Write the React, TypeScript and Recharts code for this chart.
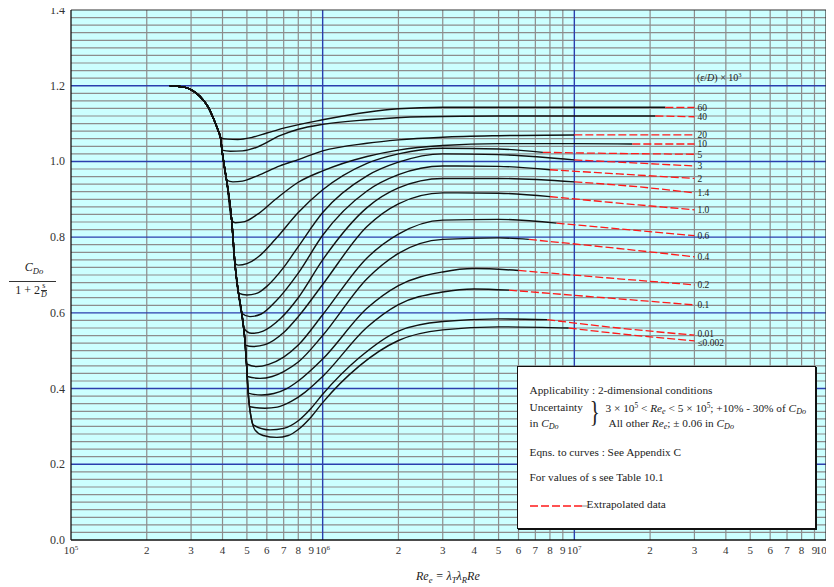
import React from 'react';
import { LineChart, Line, XAxis, YAxis, CartesianGrid } from 'recharts';

type Pt = [number, number];

const SERIF = '"Liberation Serif", "Times New Roman", "DejaVu Serif", serif';

// common descending branch (shared by every curve until it branches off)
const ENVELOPE: Pt[] = [
  [2.47e5, 1.2], [2.7e5, 1.198], [2.97e5, 1.191], [3.25e5, 1.172], [3.5e5, 1.145],
  [3.7e5, 1.11], [3.85e5, 1.08], [3.93e5, 1.062], [3.98e5, 1.03], [4.06e5, 0.99],
  [4.15e5, 0.951], [4.35e5, 0.845], [4.48e5, 0.731], [4.63e5, 0.652], [4.77e5, 0.599],
  [4.91e5, 0.528], [4.99e5, 0.458], [5.06e5, 0.388], [5.22e5, 0.317], [5.38e5, 0.291],
];

const SOLID_60: Pt[] = [[3.93e5, 1.062], [4.2e5, 1.059], [4.6e5, 1.058], [5.2e5, 1.063], [6e5, 1.075], [7e5, 1.088], [1e6, 1.11], [1.5e6, 1.13], [2e6, 1.139], [3e6, 1.143], [1e7, 1.143], [2.3e7, 1.143]];
const DASH_60: Pt[] = [[2.3e7, 1.143], [3e7, 1.143]];

const SOLID_40: Pt[] = [[3.98e5, 1.03], [4.3e5, 1.027], [4.8e5, 1.028], [5.5e5, 1.038], [6.76e5, 1.068], [8e5, 1.085], [1e6, 1.098], [1.5e6, 1.11], [2.5e6, 1.118], [5e6, 1.12], [2.1e7, 1.12]];
const DASH_40: Pt[] = [[2.1e7, 1.12], [3e7, 1.118]];

const SOLID_20: Pt[] = [[4.15e5, 0.951], [4.4e5, 0.946], [4.8e5, 0.948], [5.5e5, 0.962], [6.76e5, 0.988], [8e5, 1.005], [1e6, 1.028], [1.5e6, 1.048], [2e6, 1.057], [3e6, 1.064], [5e6, 1.068], [1e7, 1.07]];
const DASH_20: Pt[] = [[1e7, 1.07], [3e7, 1.07]];

const SOLID_10: Pt[] = [[4.35e5, 0.845], [4.5e5, 0.838], [4.9e5, 0.841], [5.5e5, 0.86], [6.5e5, 0.9], [8e5, 0.945], [1e6, 0.975], [1.5e6, 1.013], [2e6, 1.03], [3e6, 1.042], [5e6, 1.047], [1e7, 1.047], [1.7e7, 1.046]];
const DASH_10: Pt[] = [[1.7e7, 1.046], [3e7, 1.046]];

const SOLID_5: Pt[] = [[4.48e5, 0.731], [4.62e5, 0.726], [5e5, 0.73], [5.6e5, 0.75], [6.5e5, 0.795], [8e5, 0.865], [1e6, 0.925], [1.5e6, 0.995], [2e6, 1.02], [3e6, 1.035], [5e6, 1.033], [7.5e6, 1.024]];
const DASH_5: Pt[] = [[7.5e6, 1.024], [1.5e7, 1.021], [3e7, 1.019]];

const SOLID_3: Pt[] = [[4.63e5, 0.652], [5e5, 0.647], [5.5e5, 0.652], [6e5, 0.67], [7e5, 0.72], [8e5, 0.775], [1e6, 0.865], [1.5e6, 0.962], [2e6, 0.998], [3e6, 1.02], [5e6, 1.018], [1e7, 1.004]];
const DASH_3: Pt[] = [[1e7, 1.004], [2e7, 0.994], [3e7, 0.988]];

const SOLID_2: Pt[] = [[4.77e5, 0.599], [5.14e5, 0.59], [5.7e5, 0.597], [6.5e5, 0.63], [8e5, 0.705], [1e6, 0.805], [1.5e6, 0.922], [2e6, 0.965], [3e6, 0.988], [5e6, 0.987], [8e6, 0.978]];
const DASH_2: Pt[] = [[8e6, 0.978], [1.5e7, 0.967], [3e7, 0.955]];

const SOLID_1_4: Pt[] = [[4.85e5, 0.56], [5.22e5, 0.546], [5.8e5, 0.552], [6.8e5, 0.585], [8e5, 0.64], [1e6, 0.74], [1.5e6, 0.878], [2e6, 0.93], [3e6, 0.955], [5e6, 0.955], [1e7, 0.946]];
const DASH_1_4: Pt[] = [[1e7, 0.946], [2e7, 0.93], [3e7, 0.917]];

const SOLID_1_0: Pt[] = [[4.93e5, 0.515], [5.29e5, 0.511], [5.9e5, 0.516], [7e5, 0.548], [8e5, 0.59], [1e6, 0.675], [1.5e6, 0.828], [2e6, 0.888], [3e6, 0.917], [5e6, 0.916], [8e6, 0.907]];
const DASH_1_0: Pt[] = [[8e6, 0.907], [1.5e7, 0.89], [3e7, 0.872]];

const SOLID_0_6: Pt[] = [[4.985e5, 0.465], [5.47e5, 0.458], [6.1e5, 0.464], [7e5, 0.483], [8e5, 0.515], [1e6, 0.595], [1.5e6, 0.745], [2e6, 0.808], [3e6, 0.845], [5e6, 0.847], [8.5e6, 0.837]];
const DASH_0_6: Pt[] = [[8.5e6, 0.837], [1.5e7, 0.822], [3e7, 0.804]];

const SOLID_0_4: Pt[] = [[5.02e5, 0.432], [5.64e5, 0.427], [6.3e5, 0.432], [7e5, 0.445], [8e5, 0.47], [1e6, 0.54], [1.5e6, 0.69], [2e6, 0.757], [3e6, 0.794], [5e6, 0.798], [6.6e6, 0.794]];
const DASH_0_4: Pt[] = [[6.6e6, 0.794], [1.5e7, 0.77], [3e7, 0.748]];

const SOLID_0_2: Pt[] = [[5.06e5, 0.388], [5.72e5, 0.383], [6.4e5, 0.387], [7.2e5, 0.4], [8e5, 0.42], [1e6, 0.478], [1.5e6, 0.612], [2e6, 0.672], [3e6, 0.708], [4e6, 0.717], [6e6, 0.712]];
const DASH_0_2: Pt[] = [[6e6, 0.712], [1.5e7, 0.69], [3e7, 0.674]];

const SOLID_0_1: Pt[] = [[5.14e5, 0.352], [5.9e5, 0.348], [6.6e5, 0.351], [7.5e5, 0.366], [8.5e5, 0.39], [1e6, 0.432], [1.5e6, 0.562], [2e6, 0.622], [3e6, 0.655], [4e6, 0.663], [5.5e6, 0.66]];
const DASH_0_1: Pt[] = [[5.5e6, 0.66], [1.5e7, 0.637], [3e7, 0.621]];

const SOLID_0_01: Pt[] = [[5.3e5, 0.304], [6.18e5, 0.291], [7e5, 0.295], [8e5, 0.315], [9e5, 0.348], [1e6, 0.385], [1.4e6, 0.482], [2e6, 0.552], [3e6, 0.577], [5e6, 0.584], [7.8e6, 0.582]];
const DASH_0_01: Pt[] = [[7.8e6, 0.582], [1.5e7, 0.56], [3e7, 0.541]];

const SOLID_0_002: Pt[] = [[5.38e5, 0.291], [5.8e5, 0.276], [6.57e5, 0.271], [7.3e5, 0.276], [8e5, 0.292], [9e5, 0.325], [1e6, 0.363], [1.4e6, 0.46], [2e6, 0.527], [3e6, 0.555], [5e6, 0.563], [9.5e6, 0.56]];
const DASH_0_002: Pt[] = [[9.5e6, 0.56], [1.5e7, 0.545], [3e7, 0.526]];

const CURVE_LABELS = ['60', '40', '20', '10', '5', '3', '2', '1.4', '1.0', '0.6', '0.4', '0.2', '0.1', '0.01', '≤0.002'];
const SOLIDS = [SOLID_60, SOLID_40, SOLID_20, SOLID_10, SOLID_5, SOLID_3, SOLID_2, SOLID_1_4, SOLID_1_0, SOLID_0_6, SOLID_0_4, SOLID_0_2, SOLID_0_1, SOLID_0_01, SOLID_0_002];
const DASHES = [DASH_60, DASH_40, DASH_20, DASH_10, DASH_5, DASH_3, DASH_2, DASH_1_4, DASH_1_0, DASH_0_6, DASH_0_4, DASH_0_2, DASH_0_1, DASH_0_01, DASH_0_002];

const Y_TICKS = [0, 0.2, 0.4, 0.6, 0.8, 1.0, 1.2, 1.4];
const X_DECADES = [1e5, 1e6, 1e7];
const X_MULTIPLES = [1, 2, 3, 4, 5, 6, 7, 8, 9];
const X_MAX = 1e8;
const Y_MINOR_STEP = 0.02;

const xTicks: number[] = [];
X_DECADES.forEach((d) => X_MULTIPLES.forEach((m) => xTicks.push(m * d)));
xTicks.push(X_MAX);
const minorX = xTicks.filter((v) => !X_DECADES.includes(v) && v !== X_MAX);
const majorX = X_DECADES.slice(1);
const minorY: number[] = [];
for (let k = 1; k < 70; k++) if (k % 10 !== 0) minorY.push(+(k * Y_MINOR_STEP).toFixed(2));
const majorY = Y_TICKS.slice(1, -1);

const toRows = (pts: Pt[]) => pts.map(([x, y]) => ({ x, y }));

const curves = CURVE_LABELS.map((label, i) => {
  const own = SOLIDS[i];
  const head = ENVELOPE.filter((p) => p[0] < own[0][0]);
  return { label, solid: toRows([...head, ...own]), dash: toRows(DASHES[i]) };
});

const XTick = (props: any) => {
  const { x, y, payload } = props;
  const v = payload.value as number;
  const exp = Math.floor(Math.log10(v) + 1e-9);
  const mant = Math.round(v / Math.pow(10, exp));
  if (mant === 1) {
    const shift = v === X_MAX ? -3 : 0;
    return (
      <text x={x + shift} y={y} dy={10} textAnchor="middle" fontSize={11} fontFamily={SERIF} fill="#333">
        10<tspan fontSize={7} dy={-4}>{exp}</tspan>
      </text>
    );
  }
  return (
    <text x={x} y={y} dy={10} textAnchor="middle" fontSize={11} fontFamily={SERIF} fill="#333">
      {mant}
    </text>
  );
};

const YTick = (props: any) => {
  const { x, y, payload } = props;
  return (
    <text x={x} y={y} dy={4} textAnchor="end" fontSize={12} fontFamily={SERIF} fill="#333">
      {(payload.value as number).toFixed(1)}
    </text>
  );
};

const endLabel = (text: string, last: number, nudge: number) => (p: any) => {
  const x = p.x ?? p.viewBox?.x;
  const y = p.y ?? p.viewBox?.y;
  if (p.index !== last || x == null) return <g />;
  return (
    <text x={x + 3} y={y + nudge} dy={3.3} fontSize={9.5} fontFamily={SERIF} fill="#222">
      {text}
    </text>
  );
};

const sub = (t: string) => (
  <span style={{ fontSize: '0.72em', verticalAlign: '-0.3em', fontStyle: 'italic' }}>{t}</span>
);
const sup = (t: string) => (
  <span style={{ fontSize: '0.65em', verticalAlign: '0.55em' }}>{t}</span>
);

export default function App() {
  return (
    <div style={{ position: 'relative', marginTop: -8, width: 826, height: 587, fontFamily: SERIF, color: '#222' }}>
      <LineChart width={826} height={587} margin={{ top: 10, right: 8, bottom: 17, left: 0 }}>
        <CartesianGrid fill="#ccffff" fillOpacity={1} stroke="#8d8d8d" strokeWidth={1.2}
          horizontalValues={minorY} verticalValues={minorX} />
        <CartesianGrid stroke="#2b3fae" strokeWidth={1.4} horizontalValues={majorY} verticalValues={majorX} />
        <CartesianGrid stroke="#333" strokeWidth={1.2} horizontalValues={[1.4]} verticalValues={[X_MAX]} />
        <XAxis dataKey="x" type="number" scale="log" domain={[1e5, X_MAX]} allowDataOverflow
          ticks={xTicks} interval={0} tick={<XTick />} tickLine={false} tickSize={0} tickMargin={4}
          height={30} axisLine={{ stroke: '#111', strokeWidth: 1.3 }} />
        <YAxis type="number" domain={[0, 1.4]} ticks={Y_TICKS} interval={0} tick={<YTick />}
          tickLine={false} tickSize={0} tickMargin={6} width={63}
          axisLine={{ stroke: '#111', strokeWidth: 1.3 }} />
        {curves.map((c) => (
          <Line key={'s' + c.label} data={c.solid} dataKey="y" type="monotone" stroke="#111"
            strokeWidth={1.4} dot={false} activeDot={false} isAnimationActive={false} />
        ))}
        {curves.map((c, i) => (
          <Line key={'d' + c.label} data={c.dash} dataKey="y" type="monotone" stroke="#ff1a1a"
            strokeWidth={1.3} strokeDasharray="8 3" dot={false} activeDot={false}
            isAnimationActive={false}
            label={endLabel(c.label, c.dash.length - 1, i === 13 ? -1.5 : i === 14 ? 1.5 : 0)} />
        ))}
      </LineChart>

      {/* series header */}
      <div style={{ position: 'absolute', left: 689, top: 71, fontSize: 10, whiteSpace: 'nowrap' }}>
        (<i>ε</i>/<i>D</i>) × 10{sup('3')}
      </div>

      {/* y-axis title */}
      <div style={{ position: 'absolute', left: 0, top: 260, width: 48, display: 'flex', flexDirection: 'column', alignItems: 'center', fontSize: 12 }}>
        <div style={{ lineHeight: '14px', marginLeft: 4 }}><i>C</i>{sub('Do')}</div>
        <div style={{ width: 47, borderTop: '1px solid #333', marginTop: 3 }} />
        <div style={{ display: 'flex', alignItems: 'center', marginTop: 0, marginLeft: -2 }}>
          <span>1 + 2</span>
          <span style={{ display: 'inline-flex', flexDirection: 'column', alignItems: 'center', fontSize: 8, marginLeft: 1, lineHeight: '8px' }}>
            <span>s</span>
            <span style={{ borderTop: '0.8px solid #333', fontStyle: 'italic' }}>D</span>
          </span>
        </div>
      </div>

      {/* x-axis title */}
      <div style={{ position: 'absolute', left: 408, top: 569, fontSize: 12, fontStyle: 'italic', whiteSpace: 'nowrap' }}>
        Re{sub('e')} = λ{sub('T')}λ{sub('R')}Re
      </div>

      {/* information box */}
      <div style={{ position: 'absolute', left: 508.5, top: 366, width: 297, height: 161, background: '#fff', border: '1px solid #111', boxShadow: '1px 1px 0 #111', fontSize: 11.3, fontFamily: SERIF, whiteSpace: 'nowrap' }}>
        <div style={{ position: 'absolute', left: 12, top: 17 }}>Applicability : 2-dimensional conditions</div>
        <div style={{ position: 'absolute', left: 12, top: 34 }}>Uncertainty</div>
        <div style={{ position: 'absolute', left: 12, top: 50 }}>in <i>C</i>{sub('Do')}</div>
        <div style={{ position: 'absolute', left: 70, top: 29, width: 12, overflow: 'visible', fontSize: 30, lineHeight: '30px', transform: 'scaleX(0.7)' }}>{'}'}</div>
        <div style={{ position: 'absolute', left: 88, top: 34 }}>
          3 × 10{sup('5')} &lt; <i>Re</i>{sub('e')} &lt; 5 × 10{sup('5')}; +10% - 30% of <i>C</i>{sub('Do')}
        </div>
        <div style={{ position: 'absolute', left: 91, top: 50 }}>
          All other <i>Re</i>{sub('e')}; ± 0.06 in <i>C</i>{sub('Do')}
        </div>
        <div style={{ position: 'absolute', left: 12, top: 79 }}>Eqns. to curves : See Appendix C</div>
        <div style={{ position: 'absolute', left: 12, top: 104 }}>For values of s see Table 10.1</div>
        <svg style={{ position: 'absolute', left: 12, top: 137 }} width={58} height={4}>
          <line x1={0} y1={2} x2={52} y2={2} stroke="#ff1a1a" strokeWidth={1.3} strokeDasharray="8 3" />
          <line x1={52} y1={2} x2={58} y2={2} stroke="#888" strokeWidth={1} />
        </svg>
        <div style={{ position: 'absolute', left: 69, top: 131, fontFamily: SERIF }}>Extrapolated data</div>
      </div>
    </div>
  );
}
